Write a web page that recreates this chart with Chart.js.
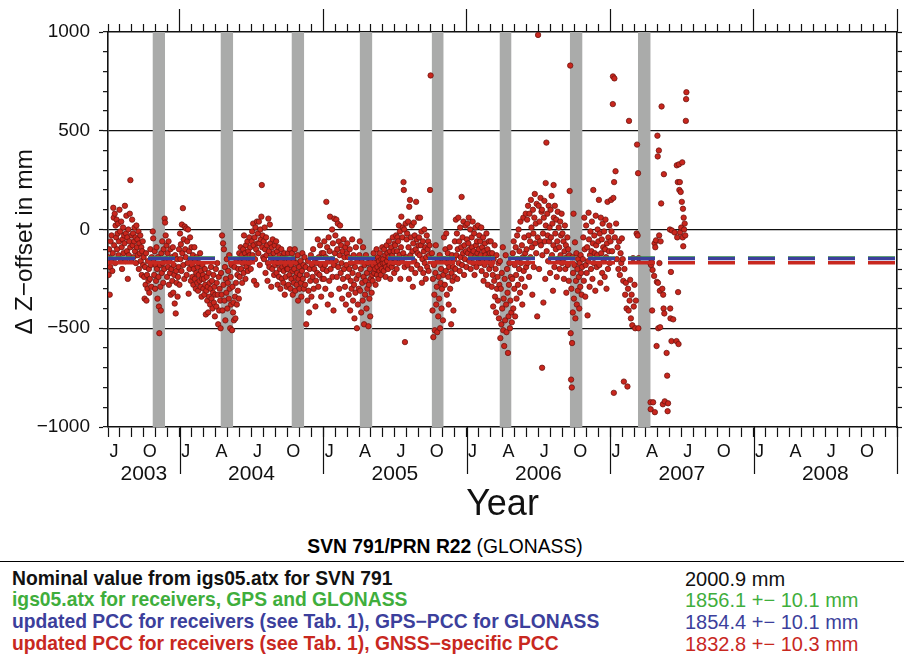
<!DOCTYPE html>
<html>
<head>
<meta charset="utf-8">
<script src="https://cdn.jsdelivr.net/npm/chart.js@4.4.1/dist/chart.umd.min.js"></script>
<style>
  body { margin: 0; background: #fff; width: 904px; height: 655px; overflow: hidden; position: relative;
         font-family: "Liberation Sans", Arial, Helvetica, sans-serif; }
  #marco { position: absolute; left: 0; top: 0; width: 904px; height: 529px; }
  #titulo { position: absolute; left: 0; width: 890px; top: 536px; text-align: center; font-size: 19.3px; line-height: 22px; }
  #titulo b { font-weight: bold; }
  #raya { position: absolute; left: 0; top: 561px; width: 904px; height: 0; border-top: 1.5px solid #000; }
  .fila { position: absolute; left: 12px; font-size: 19.3px; font-weight: bold; line-height: 22px; white-space: nowrap; }
  .valor { position: absolute; left: 685px; font-size: 20px; line-height: 22px; white-space: nowrap; }
</style>
</head>
<body>
<div id="marco"><canvas id="grafico-z"></canvas></div>
<div id="titulo"><b>SVN 791/PRN R22</b> (GLONASS)</div>
<div id="raya"></div>
<div id="leyenda"></div>
<script>
// Datos: fecha decimal, diferencia de offset Z en mm
const obs2003 = [
  [2003.502,-140],[2003.505,-230],[2003.508,-100],[2003.512,-330],[2003.515,-190],[2003.518,-60],[2003.522,-150],[2003.525,-30],[2003.530,-210],[2003.533,-120],[2003.537,110],[2003.540,60],[2003.543,-80],[2003.547,80],[2003.550,-170],[2003.553,20],[2003.557,-40],[2003.560,50],[2003.563,-100],[2003.567,-20],[2003.570,30],[2003.573,-130],[2003.577,-60],[2003.580,100],
  [2003.585,-10],[2003.588,-150],[2003.592,40],[2003.595,-90],[2003.598,-200],[2003.602,-50],[2003.605,10],[2003.608,-120],[2003.612,-30],[2003.615,-70],[2003.618,120],[2003.622,-160],[2003.625,-20],[2003.628,70],[2003.632,-110],[2003.635,-40],[2003.638,-250],[2003.642,0],[2003.645,-130],[2003.648,-60],[2003.652,80],[2003.655,-90],[2003.656,250],[2003.662,-150],[2003.665,-30],
  [2003.668,50],[2003.672,-80],[2003.675,-20],[2003.678,-140],[2003.682,-60],[2003.685,10],[2003.688,-110],[2003.692,-40],[2003.695,-170],[2003.698,20],[2003.702,-90],[2003.705,-50],[2003.708,-130],[2003.712,-10],[2003.715,-200],[2003.718,-70],[2003.722,-120],[2003.725,-30],[2003.728,-160],[2003.732,-90],[2003.735,-230],[2003.738,-110],[2003.742,-60],[2003.745,-180],[2003.748,-140],
  [2003.752,-240],[2003.755,-350],[2003.758,-190],[2003.762,-280],[2003.765,-120],[2003.768,-360],[2003.772,-230],[2003.775,-300],[2003.778,-160],[2003.782,-260],[2003.785,-200],[2003.788,-320],[2003.792,-250],[2003.795,-100],[2003.798,-180],[2003.802,-290],[2003.805,-140],
  [2003.812,-10],[2003.815,-45],[2003.818,-150],[2003.822,-230],[2003.825,-110],[2003.828,-300],[2003.832,-180],[2003.835,-260],[2003.838,-90],[2003.842,-200],[2003.845,-350],[2003.848,-140],[2003.852,-240],[2003.855,-390],[2003.858,-525],[2003.862,-180],[2003.865,-290],[2003.868,-410],[2003.872,-120],[2003.875,-220],[2003.878,-60],[2003.882,-170],[2003.885,-270],[2003.888,-100],[2003.892,-200],[2003.895,55],[2003.898,35],
  [2003.902,-30],[2003.905,-150],[2003.908,-80],[2003.912,-240],[2003.915,-120],[2003.918,-190],[2003.922,-60],[2003.925,-280],[2003.928,-160],[2003.932,-220],[2003.935,-100],[2003.938,-330],[2003.942,-200],[2003.945,-140],[2003.948,-260],[2003.952,-90],[2003.955,-320],[2003.958,-180],[2003.962,-230],[2003.965,-375],[2003.968,-130],[2003.972,-425],[2003.975,-210],[2003.978,-270],[2003.982,-150],[2003.985,-340],[2003.988,-240],[2003.992,-190],[2003.995,-100],[2003.998,-280]
];
const obs2004 = [
  [2004.002,-20],[2004.005,-150],[2004.008,-75],[2004.012,-210],[2004.015,25],[2004.018,-120],[2004.022,108],[2004.025,-180],[2004.028,-50],[2004.032,-250],[2004.035,15],[2004.038,-100],[2004.042,-140],[2004.045,5],[2004.048,-230],[2004.052,-60],[2004.055,-170],[2004.058,0],[2004.062,-325],[2004.065,-110],[2004.068,-200],[2004.072,-40],[2004.075,-150],[2004.078,-260],[2004.082,-90],
  [2004.085,-180],[2004.088,-240],[2004.092,-130],[2004.095,-280],[2004.098,-200],[2004.102,-90],[2004.105,-250],[2004.108,-160],[2004.112,-300],[2004.115,-220],[2004.118,-140],[2004.122,-270],[2004.125,-190],[2004.128,-310],[2004.132,-230],[2004.135,-170],[2004.138,-260],[2004.142,-120],[2004.145,-290],[2004.148,-210],[2004.152,-340],[2004.155,-250],[2004.158,-180],[2004.162,-230],[2004.165,-300],
  [2004.168,-250],[2004.172,-330],[2004.175,-200],[2004.178,-280],[2004.182,-430],[2004.185,-310],[2004.188,-240],[2004.192,-360],[2004.195,-290],[2004.198,-420],[2004.202,-220],[2004.205,-340],[2004.208,-270],[2004.212,-380],[2004.215,-300],[2004.218,-190],[2004.222,-350],[2004.225,-260],[2004.228,-400],[2004.232,-320],[2004.235,-230],[2004.238,-370],[2004.242,-290],[2004.245,-440],[2004.248,-330],
  [2004.252,-200],[2004.255,-390],[2004.258,-270],[2004.262,-170],[2004.265,-330],[2004.268,-480],[2004.272,-240],[2004.275,-410],[2004.278,-300],[2004.282,-360],
  [2004.285,-500],[2004.288,-220],[2004.292,-330],[2004.295,-30],[2004.298,-410],[2004.302,-70],[2004.305,-280],[2004.308,-100],[2004.312,-360],[2004.315,-190],[2004.318,-460],[2004.322,-250],[2004.325,-320],[2004.328,-150],[2004.332,-400],[2004.335,-270],[2004.338,-210],[2004.342,-350],[2004.345,-130],[2004.348,-300],[2004.352,-500],[2004.355,-240],[2004.358,-380],[2004.362,-180],[2004.365,-510],[2004.368,-290],[2004.372,-420],
  [2004.375,-370],[2004.378,-460],[2004.382,-190],[2004.385,-340],[2004.388,-450],[2004.392,-270],[2004.395,-155],[2004.398,-380],[2004.402,-230],[2004.405,-310],[2004.408,-200],[2004.412,-350],[2004.415,-120],
  [2004.418,-240],[2004.422,-150],[2004.425,-90],[2004.428,-200],[2004.432,-130],[2004.435,-270],[2004.438,-170],[2004.442,-100],[2004.445,-220],[2004.448,-30],[2004.452,-160],[2004.455,-120],[2004.458,-250],[2004.462,-80],[2004.465,-190],[2004.468,-140],[2004.472,-60],[2004.475,-210],[2004.478,-110],[2004.482,-170],[2004.485,-40],[2004.488,-130],[2004.492,-90],[2004.495,-200],[2004.498,-150],
  [2004.502,-60],[2004.505,-10],[2004.508,-130],[2004.512,30],[2004.515,-80],[2004.518,-260],[2004.522,-40],[2004.525,-150],[2004.528,10],[2004.532,-100],[2004.535,-280],[2004.538,40],[2004.542,-70],[2004.545,-20],[2004.548,-120],[2004.552,40],[2004.555,-70],[2004.558,-180],[2004.562,0],[2004.565,-50],[2004.569,65],[2004.572,225],[2004.575,-90],[2004.578,-30],[2004.582,-140],
  [2004.585,-60],[2004.588,-150],[2004.592,10],[2004.595,-100],[2004.598,-220],[2004.602,-40],[2004.605,-130],[2004.608,-80],[2004.612,-260],[2004.615,-170],[2004.618,55],[2004.622,-110],[2004.625,-190],[2004.628,25],[2004.632,-70],[2004.635,-140],[2004.638,-290],[2004.642,-90],[2004.645,-200],[2004.648,-50],[2004.652,-160],[2004.655,-120],[2004.658,-230],[2004.662,-80],[2004.665,-180],
  [2004.668,-150],[2004.672,-60],[2004.675,-220],[2004.678,-110],[2004.682,-280],[2004.685,-170],[2004.688,-90],[2004.692,-240],[2004.695,-130],[2004.698,-200],[2004.702,-300],[2004.705,-160],[2004.708,-100],[2004.712,-250],[2004.715,-190],[2004.718,-140],[2004.722,-270],[2004.725,-210],[2004.728,-120],[2004.732,-330],[2004.735,-180],[2004.738,-240],[2004.742,-150],[2004.745,-290],[2004.748,-200],
  [2004.752,-200],[2004.755,-120],[2004.758,-280],[2004.762,-160],[2004.765,-230],[2004.768,-100],[2004.772,-300],[2004.775,-180],[2004.778,-250],[2004.782,-120],[2004.785,-210],[2004.788,-330],[2004.792,-150],[2004.795,-270],[2004.798,-200],[2004.802,-100],[2004.805,-310],[2004.808,-240],[2004.812,-170],[2004.815,-280],[2004.818,-220],[2004.822,-130],[2004.825,-360],[2004.828,-250],[2004.832,-190],[2004.835,-300],[2004.838,-230],[2004.842,-160],[2004.845,-270],[2004.848,-340],[2004.852,-210],[2004.855,-120],[2004.858,-250],[2004.862,-180],[2004.865,-300],
  [2004.870,-140],[2004.874,-280],[2004.878,-190],[2004.882,-480],[2004.886,-230],[2004.890,-360],[2004.894,-160],[2004.898,-310],[2004.902,-420],[2004.906,-200],[2004.910,-260],[2004.914,-130],[2004.918,-340],[2004.922,-180],[2004.926,-240],[2004.930,-100],[2004.934,-300],[2004.938,-200],[2004.942,-150],[2004.946,-390],[2004.950,-260],[2004.954,-170],[2004.958,-220],[2004.962,-50],[2004.966,-290],[2004.970,-140],[2004.974,-230],[2004.978,-80],[2004.982,-180],[2004.986,-340],[2004.990,-120],[2004.994,-250],[2004.998,-200]
];
const obs2005 = [
  [2005.002,-120],[2005.005,-250],[2005.008,-60],[2005.012,-180],[2005.015,-300],[2005.018,-140],[2005.022,140],[2005.025,-210],[2005.028,-90],[2005.032,-380],[2005.035,-160],[2005.038,-40],[2005.042,-260],[2005.045,-110],[2005.048,65],[2005.052,-200],[2005.055,-330],[2005.058,-150],[2005.062,0],[2005.065,-240],[2005.068,-70],[2005.072,-410],[2005.075,-180],[2005.078,55],[2005.082,-120],
  [2005.085,-30],[2005.088,-160],[2005.092,50],[2005.095,-240],[2005.098,-100],[2005.102,30],[2005.105,-190],[2005.108,-60],[2005.112,-300],[2005.115,-130],[2005.118,20],[2005.122,-220],[2005.125,-80],[2005.128,-170],[2005.132,-350],[2005.135,-110],[2005.138,-250],[2005.142,-50],[2005.145,-200],[2005.148,-140],[2005.152,-290],[2005.155,-90],[2005.158,-380],[2005.162,-180],[2005.165,-120],
  [2005.168,-70],[2005.172,-240],[2005.175,-140],[2005.178,-330],[2005.182,-200],[2005.185,-100],[2005.188,-410],[2005.192,-260],[2005.195,-170],[2005.198,-300],[2005.202,-50],[2005.205,-220],[2005.208,-360],[2005.212,-130],[2005.215,-280],[2005.218,-450],[2005.222,-190],[2005.225,-320],[2005.228,-90],[2005.232,-250],[2005.235,-500],[2005.238,-160],[2005.242,-380],[2005.245,-230],[2005.248,-300],[2005.252,-130],
  [2005.255,-60],[2005.258,-310],[2005.262,-200],[2005.265,-420],[2005.268,-150],[2005.272,-270],[2005.275,-360],[2005.278,-90],[2005.282,-240],[2005.285,-480],[2005.288,-180],[2005.292,-330],[2005.295,-260],[2005.298,-130],[2005.302,-400],[2005.305,-220],[2005.308,-300],[2005.312,-170],[2005.315,-490],[2005.318,-280],[2005.322,-350],[2005.325,-200],[2005.328,-440],[2005.332,-250],[2005.335,-160],[2005.338,-320],[2005.342,-230],
  [2005.345,-260],[2005.348,-180],[2005.352,-120],[2005.355,-220],[2005.358,-150],[2005.362,-200],[2005.365,-280],[2005.368,-170],[2005.372,-100],[2005.375,-230],[2005.378,-190],[2005.382,-140],[2005.385,-250],[2005.388,-160],[2005.392,-210],[2005.395,-120],[2005.398,-180],[2005.402,-230],[2005.405,-150],[2005.408,-200],[2005.412,-90],[2005.415,-170],
  [2005.418,-150],[2005.422,-210],[2005.425,-100],[2005.428,-170],[2005.432,-130],[2005.435,-240],[2005.438,-190],[2005.442,-80],[2005.445,-160],[2005.448,-120],[2005.452,-200],[2005.455,-140],[2005.458,-60],[2005.462,-180],[2005.465,-110],[2005.468,-250],[2005.472,-150],[2005.475,-90],[2005.478,-190],[2005.482,-130],[2005.485,-40],[2005.488,-170],[2005.492,-110],[2005.495,-220],[2005.498,-70],
  [2005.502,-80],[2005.505,-150],[2005.508,-30],[2005.512,-200],[2005.515,-110],[2005.518,-40],[2005.522,-60],[2005.525,-170],[2005.528,20],[2005.532,-130],[2005.535,-10],[2005.538,-250],[2005.542,-90],[2005.545,65],[2005.548,-160],[2005.552,-40],[2005.555,10],[2005.558,-120],[2005.560,240],[2005.562,200],[2005.565,0],[2005.568,-190],[2005.570,-570],[2005.575,30],[2005.578,-140],[2005.582,-50],
  [2005.585,-20],[2005.588,-180],[2005.592,40],[2005.595,-90],[2005.598,-250],[2005.600,115],[2005.605,150],[2005.608,-130],[2005.612,-40],[2005.615,-200],[2005.618,20],[2005.622,-110],[2005.625,-290],[2005.628,-70],[2005.632,35],[2005.635,-160],[2005.638,-30],[2005.642,-220],[2005.645,-100],[2005.648,140],[2005.652,-50],[2005.655,-180],[2005.658,-120],[2005.662,60],[2005.665,-80],
  [2005.668,-40],[2005.672,-130],[2005.675,60],[2005.678,-200],[2005.682,-80],[2005.685,-10],[2005.688,-270],[2005.692,-150],[2005.695,-60],[2005.698,-220],[2005.702,-110],[2005.705,0],[2005.708,-170],[2005.712,-90],[2005.715,-250],[2005.718,-140],[2005.722,-30],[2005.725,-190],[2005.728,-100],[2005.732,-60],[2005.735,-210],[2005.738,-130],[2005.742,-80],[2005.745,200],[2005.749,780],
  [2005.758,-120],[2005.762,-410],[2005.765,-250],[2005.768,-545],[2005.772,-180],[2005.775,-330],[2005.778,-510],[2005.782,-220],[2005.785,-80],[2005.788,-380],[2005.792,-290],[2005.795,-520],[2005.798,-160],[2005.802,-440],[2005.805,-240],[2005.808,-350],[2005.812,-130],[2005.815,-500],[2005.818,-270],[2005.822,-200],[2005.825,-400],[2005.828,-300],[2005.832,-150],[2005.835,-460],[2005.838,-230],
  [2005.842,-40],[2005.845,-150],[2005.848,-280],[2005.852,-100],[2005.855,-210],[2005.858,-20],[2005.862,-330],[2005.865,-170],[2005.868,-120],[2005.872,-240],[2005.875,-380],[2005.878,-190],[2005.882,-90],[2005.885,-300],[2005.888,-160],[2005.892,-480],[2005.895,-220],[2005.898,-130],[2005.902,-260],[2005.905,-190],[2005.908,-410],[2005.912,-150],[2005.915,-240],
  [2005.918,-60],[2005.922,-200],[2005.925,50],[2005.928,-130],[2005.932,-20],[2005.935,-250],[2005.938,-100],[2005.942,60],[2005.945,-170],[2005.948,-60],[2005.952,-210],[2005.955,10],[2005.958,-140],[2005.962,-90],[2005.965,165],[2005.968,-180],[2005.972,-40],[2005.975,-120],[2005.978,40],[2005.982,-230],[2005.985,-80],[2005.988,-150],[2005.992,20],[2005.995,-110],[2005.998,-190]
];
const obs2006 = [
  [2006.002,-50],[2006.005,30],[2006.008,-120],[2006.012,-70],[2006.015,60],[2006.018,-160],[2006.022,-100],[2006.025,0],[2006.028,-200],[2006.032,-130],[2006.035,-40],[2006.038,-90],[2006.042,40],[2006.045,-170],[2006.048,-110],[2006.052,-20],[2006.055,-230],[2006.058,-140],[2006.062,10],[2006.065,-80],[2006.068,-190],[2006.072,-60],[2006.075,-120],[2006.078,20],[2006.082,-150],
  [2006.085,-100],[2006.088,-30],[2006.092,-170],[2006.095,-60],[2006.098,-130],[2006.102,10],[2006.105,-210],[2006.108,-90],[2006.112,-150],[2006.115,-40],[2006.118,-260],[2006.122,-110],[2006.125,-180],[2006.128,-70],[2006.132,-130],[2006.135,-230],[2006.138,-20],[2006.142,-160],[2006.145,-100],[2006.148,-280],[2006.152,-140],[2006.155,-60],[2006.158,-200],[2006.162,-120],[2006.165,-170],
  [2006.168,-60],[2006.172,-180],[2006.175,-290],[2006.178,-120],[2006.182,-230],[2006.185,-390],[2006.188,-150],[2006.192,-260],[2006.195,-80],[2006.198,-340],[2006.202,-200],[2006.205,-420],[2006.208,-130],[2006.212,-300],[2006.215,-240],[2006.218,-360],[2006.222,-170],[2006.225,-450],[2006.228,-280],
  [2006.232,-160],[2006.235,-550],[2006.238,-300],[2006.242,-480],[2006.245,-220],[2006.248,-400],[2006.252,-90],[2006.255,-510],[2006.258,-350],[2006.262,-590],[2006.265,-250],[2006.268,-460],[2006.272,-130],[2006.275,-380],[2006.278,-520],[2006.282,-200],[2006.285,-320],[2006.288,-625],[2006.292,-440],[2006.295,-280],[2006.298,-170],[2006.302,-500],[2006.305,-360],[2006.308,-240],[2006.312,-420],
  [2006.315,-470],[2006.318,-250],[2006.322,-120],[2006.325,-400],[2006.328,-60],[2006.332,-300],[2006.335,-180],[2006.338,-440],[2006.342,-90],[2006.345,-230],[2006.348,-350],[2006.352,-30],[2006.355,-150],[2006.358,-280],[2006.362,0],[2006.365,-200],[2006.368,-110],[2006.372,-320],[2006.375,40],[2006.378,-170],[2006.382,-250],[2006.385,-80],[2006.388,-380],[2006.392,-140],[2006.395,60],[2006.398,-210],[2006.402,-40],[2006.405,-290],[2006.408,-120],[2006.412,80],[2006.415,-190],
  [2006.418,-100],[2006.422,50],[2006.425,-170],[2006.428,120],[2006.432,-30],[2006.435,-240],[2006.438,80],[2006.442,-60],[2006.445,-140],[2006.448,150],[2006.452,10],[2006.455,-90],[2006.458,-330],[2006.462,100],[2006.465,-20],[2006.468,-190],[2006.472,60],[2006.475,180],[2006.478,-70],[2006.482,30],[2006.485,-120],[2006.488,130],[2006.492,-440],[2006.495,-40],[2006.498,985],
  [2006.502,120],[2006.505,-200],[2006.508,40],[2006.512,-60],[2006.515,160],[2006.518,-80],[2006.522,90],[2006.525,100],[2006.526,-700],[2006.528,-130],[2006.532,-20],[2006.535,-370],[2006.538,60],[2006.542,145],[2006.545,-60],[2006.548,-250],[2006.551,235],[2006.552,20],[2006.556,440],[2006.558,-110],[2006.562,80],[2006.565,-30],[2006.568,-160],[2006.572,120],[2006.575,-60],[2006.578,10],[2006.582,-220],
  [2006.585,100],[2006.588,-40],[2006.592,170],[2006.595,-130],[2006.598,30],[2006.602,-310],[2006.605,-80],[2006.606,225],[2006.608,60],[2006.612,-190],[2006.615,120],[2006.618,-20],[2006.622,-100],[2006.625,50],[2006.628,-240],[2006.632,-60],[2006.635,90],[2006.638,-150],[2006.642,10],[2006.645,-90],[2006.648,-200],[2006.652,40],[2006.655,-130],[2006.658,-30],[2006.662,80],[2006.665,-170],
  [2006.668,-20],[2006.672,-150],[2006.675,-60],[2006.678,-250],[2006.682,-110],[2006.685,20],[2006.688,-200],[2006.692,-80],[2006.695,-320],[2006.698,-140],[2006.702,-40],[2006.705,-180],[2006.708,-100],[2006.712,-260],[2006.715,-130],[2006.718,195],
  [2006.722,830],[2006.725,-525],[2006.728,-760],[2006.730,-300],[2006.733,-800],[2006.735,-575],[2006.738,-140],[2006.740,-420],[2006.742,-220],[2006.745,80],[2006.748,-350],[2006.752,-180],[2006.755,-65],[2006.758,-450],[2006.762,-260],[2006.765,-120],[2006.768,-380],[2006.772,-200],[2006.775,-310],[2006.778,-150],[2006.782,-240],[2006.785,-400],[2006.788,-170],[2006.792,-290],[2006.795,-130],[2006.798,-220],[2006.802,-330],[2006.805,-190],
  [2006.810,-150],[2006.813,-40],[2006.817,-260],[2006.820,60],[2006.823,-100],[2006.827,-340],[2006.830,-180],[2006.833,20],[2006.837,-220],[2006.840,-90],[2006.843,-435],[2006.847,-160],[2006.850,85],[2006.853,-50],[2006.857,-290],[2006.860,-130],[2006.863,-10],[2006.867,-200],[2006.870,-110],[2006.873,40],[2006.877,-250],[2006.880,-70],[2006.883,200],[2006.887,-170],[2006.890,-30],[2006.893,-120],[2006.897,-310],[2006.900,70],[2006.903,-80],[2006.907,-190],[2006.910,-130],[2006.913,0],
  [2006.918,-60],[2006.922,150],[2006.925,-180],[2006.928,-20],[2006.932,-270],[2006.935,60],[2006.938,-120],[2006.942,-50],[2006.945,-220],[2006.948,30],[2006.952,-90],[2006.955,-160],[2006.958,-10],[2006.962,-240],[2006.965,-100],[2006.968,50],[2006.972,-140],[2006.975,-300],[2006.978,-70],[2006.982,140],[2006.985,-200],[2006.988,-40],[2006.992,-110],[2006.995,20],[2006.998,-170]
];
const obs2007 = [
  [2007.003,-60],[2007.007,150],[2007.010,-10],[2007.014,-110],[2007.019,635],[2007.020,775],[2007.023,160],[2007.026,-827],[2007.028,240],[2007.030,765],[2007.033,-40],[2007.038,295],[2007.042,30],[2007.047,-150],[2007.052,-90],[2007.058,-200],[2007.063,-60],[2007.068,-230],[2007.073,-120],[2007.078,-170],[2007.082,-45],
  [2007.088,-150],[2007.092,-260],[2007.096,-770],[2007.100,-200],[2007.105,-330],[2007.110,-270],[2007.115,-400],[2007.121,-795],[2007.125,-300],[2007.129,-410],[2007.132,550],[2007.136,-360],[2007.140,-255],[2007.145,-450],[2007.150,-330],[2007.155,-485],[2007.160,-145],[2007.165,-390],
  [2007.170,-280],[2007.175,-500],[2007.180,-360],[2007.185,-20],[2007.188,430],[2007.192,-30],
  [2007.195,285],[2007.197,-500],[2007.199,-145],[2007.280,-170],[2007.282,-875],[2007.283,-910],
  [2007.286,-180],[2007.290,-165],[2007.293,-410],[2007.296,-205],[2007.300,-875],[2007.307,-235],[2007.310,-70],[2007.312,-925],[2007.315,-90],[2007.320,-55],[2007.324,-590],[2007.326,-265],[2007.330,475],[2007.332,370],[2007.334,-270],[2007.336,-500],[2007.340,400],[2007.342,-30],[2007.344,-170],[2007.347,-310],[2007.349,-495],[2007.352,-60],[2007.356,132],[2007.359,623],[2007.364,-300],[2007.368,-885],[2007.370,-330],[2007.373,-400],[2007.375,280],[2007.378,-425],[2007.381,-870],[2007.394,-625],[2007.398,-740],[2007.401,-920],[2007.404,-880],
  [2007.417,0],[2007.419,-400],[2007.421,-450],[2007.424,-215],[2007.428,-565],[2007.431,-5],[2007.440,-455],[2007.450,-15],[2007.463,-565],[2007.465,325],[2007.468,-40],[2007.472,240],[2007.474,-317],[2007.477,-580],[2007.480,330],[2007.483,200],[2007.486,240],[2007.488,-15],[2007.492,190],[2007.496,10],[2007.500,140],[2007.503,340],[2007.506,-40],[2007.508,105],[2007.510,-85],[2007.513,60],[2007.516,0],[2007.520,30],[2007.524,-30],[2007.528,550],[2007.530,660],[2007.532,695]
];

// Temporadas de eclipse (barras grises)
const eclipseInicio = [2003.810, 2004.284, 2004.779, 2005.254, 2005.756, 2006.229, 2006.719, 2007.194];
const eclipseFin    = [2003.898, 2004.373, 2004.868, 2005.343, 2005.840, 2006.313, 2006.808, 2007.283];

// Valores de la leyenda
const valorNominal = 2000.9;
const solucionNombres = ['igs05.atx for receivers, GPS and GLONASS',
  'updated PCC for receivers (see Tab. 1), GPS\u2212PCC for GLONASS',
  'updated PCC for receivers (see Tab. 1), GNSS\u2212specific PCC'];
const solucionValores = [1856.1, 1854.4, 1832.8];
const solucionErrores = [10.1, 10.1, 10.3];
const solucionColores = ['#3fae3c', '#3c3f9c', '#c8281f'];

// Ejes
const anios = [2003, 2004, 2005, 2006, 2007, 2008];
const letrasTrimestre = ['J', 'A', 'J', 'O'];
const xInicio = 2003.5;
const xFin = 2009.0;

const puntos = [...obs2003, ...obs2004, ...obs2005, ...obs2006, ...obs2007].map(p => ({x: p[0], y: p[1]}));

const limitesMes = [];
for (const a of anios) for (let m = 0; m < 12; m++) {
    const v = a + m / 12;
    if (v >= xInicio - 1e-9 && v <= xFin) limitesMes.push(v);
}
limitesMes.push(xFin);
const limitesAnio = anios.concat([2009]).filter(a => a > xInicio);
const centrosTrimestre = [];
for (const a of anios) for (let q = 0; q < 4; q++) {
    const v = a + (q * 3 + 0.5) / 12;
    if (v > xInicio && v < xFin) centrosTrimestre.push(v);
}
const centrosAnio = anios.map(a => (Math.max(a, xInicio) + Math.min(a + 1, xFin)) / 2);

const fijarTicks = (valores) => (scale) => { scale.ticks = valores.map(v => ({value: v})); };
const fijarAncho = (w) => (scale) => { scale.width = w; };
const fijarAlto = (h) => (scale) => { scale.height = h; };
const negro = '#111';
const fuente = 'Liberation Sans, Arial, Helvetica, sans-serif';

const datasets = [];
eclipseInicio.forEach((s, i) => {
    datasets.push({
        type: 'line',
        data: [{x: s, y: 1000}, {x: eclipseFin[i], y: 1000}],
        borderWidth: 0,
        borderColor: 'rgba(0,0,0,0)',
        backgroundColor: '#aaabaa',
        pointRadius: 0,
        fill: {value: -1000},
        order: 10
    });
});
datasets.push({
    type: 'scatter',
    label: 'Z-offset',
    data: puntos,
    pointRadius: 2.7,
    pointBorderWidth: 0.8,
    backgroundColor: '#c9261d',
    borderColor: '#6e1510',
    order: 5
});
// líneas discontinuas por encima de los puntos
solucionValores.forEach((v, i) => {
    const d = v - valorNominal;
    datasets.push({
        type: 'line',
        data: [{x: xInicio, y: d}, {x: xFin, y: d}],
        borderColor: solucionColores[i],
        borderWidth: 3.5,
        borderDash: [27, 13],
        pointRadius: 0,
        fill: false,
        order: 3 - i
    });
});

// Marcas largas de los años bajo el eje x
const marcasAnuales = {
    id: 'marcasAnuales',
    afterDraw(chart) {
        const {ctx, chartArea, scales} = chart;
        ctx.save();
        ctx.strokeStyle = negro;
        ctx.lineWidth = 1.2;
        limitesAnio.forEach(a => {
            const px = Math.round(scales.x.getPixelForValue(a)) + 0.5;
            ctx.beginPath();
            ctx.moveTo(px, chartArea.bottom);
            ctx.lineTo(px, chartArea.bottom + 47);
            ctx.stroke();
        });
        ctx.restore();
    }
};

new Chart(document.getElementById('grafico-z'), {
    type: 'scatter',
    data: {datasets},
    plugins: [marcasAnuales],
    options: {
        responsive: true,
        maintainAspectRatio: false,
        animation: false,
        events: [],
        layout: {padding: {left: 0, right: 0, top: 0, bottom: 0}},
        plugins: {legend: {display: false}, tooltip: {enabled: false}},
        scales: {
            x: {
                type: 'linear', position: 'bottom', weight: 0, min: xInicio, max: xFin,
                afterBuildTicks: fijarTicks(limitesMes), afterFit: fijarAlto(10),
                ticks: {display: false},
                grid: {drawOnChartArea: false, tickLength: 10, tickColor: negro, tickWidth: 1.2},
                border: {color: negro, width: 1.6}
            },
            xTrim: {
                type: 'linear', position: 'bottom', weight: 1, min: xInicio, max: xFin,
                afterBuildTicks: fijarTicks(centrosTrimestre), afterFit: fijarAlto(21),
                ticks: {
                    autoSkip: false, maxRotation: 0, padding: 4, color: negro,
                    font: {family: fuente, size: 18},
                    callback: (v) => letrasTrimestre[Math.floor(Math.round((v - Math.floor(v)) * 12 - 0.5) / 3)]
                },
                grid: {display: false, drawTicks: false},
                border: {display: false}
            },
            xAnio: {
                type: 'linear', position: 'bottom', weight: 2, min: xInicio, max: xFin,
                afterBuildTicks: fijarTicks(centrosAnio), afterFit: fijarAlto(71),
                ticks: {
                    autoSkip: false, maxRotation: 0, padding: 4, color: negro,
                    font: {family: fuente, size: 21},
                    callback: (v) => String(Math.floor(v))
                },
                grid: {display: false, drawTicks: false},
                border: {display: false},
                title: {display: true, text: 'Year', color: negro, font: {family: fuente, size: 36}, padding: {top: 0, bottom: 2}}
            },
            xSup: {
                type: 'linear', position: 'top', weight: 0, min: xInicio, max: xFin,
                afterBuildTicks: fijarTicks(limitesMes), afterFit: fijarAlto(8),
                ticks: {display: false},
                grid: {drawOnChartArea: false, tickLength: 8, tickColor: negro, tickWidth: 1.2},
                border: {color: negro, width: 1.6}
            },
            xSupAnio: {
                type: 'linear', position: 'top', weight: 1, min: xInicio, max: xFin,
                afterBuildTicks: fijarTicks(limitesAnio), afterFit: fijarAlto(24),
                ticks: {display: false},
                grid: {drawOnChartArea: false, tickLength: 15, tickColor: negro, tickWidth: 1.2},
                border: {display: false}
            },
            y: {
                type: 'linear', position: 'left', weight: 0, min: -1000, max: 1000,
                afterFit: fijarAncho(5),
                ticks: {display: false, stepSize: 100},
                grid: {
                    tickLength: 5, tickColor: negro, tickWidth: 1.2, lineWidth: 1.3,
                    color: (c) => (c.tick && c.tick.value % 500 === 0 && Math.abs(c.tick.value) < 1000) ? negro : 'rgba(0,0,0,0)'
                },
                border: {color: negro, width: 1.6}
            },
            yEtiq: {
                type: 'linear', position: 'left', weight: 1, min: -1000, max: 1000,
                afterFit: fijarAncho(103),
                ticks: {
                    stepSize: 500, padding: 9, color: negro,
                    font: {family: fuente, size: 19},
                    callback: (v) => v < 0 ? '\u2212' + Math.abs(v) : String(v)
                },
                grid: {drawOnChartArea: false, tickLength: 4, tickColor: negro, tickWidth: 1.2},
                border: {display: false},
                title: {display: true, text: '\u0394 Z\u2212offset in mm\u2003', color: negro, font: {family: fuente, size: 24.5}, padding: {top: 11, bottom: 0}}
            },
            yDer: {
                type: 'linear', position: 'right', weight: 0, min: -1000, max: 1000,
                afterFit: fijarAncho(7),
                ticks: {display: false, stepSize: 100},
                grid: {drawOnChartArea: false, tickLength: 5, tickColor: negro, tickWidth: 1.2},
                border: {color: negro, width: 1.6}
            }
        }
    }
});

// Leyenda en texto bajo el gráfico
const leyenda = document.getElementById('leyenda');
const filas = [{texto: 'Nominal value from igs05.atx for SVN 791', valor: valorNominal.toFixed(1) + ' mm', color: '#111'}];
solucionNombres.forEach((n, i) => filas.push({
    texto: n,
    valor: solucionValores[i].toFixed(1) + ' +\u2212 ' + solucionErrores[i].toFixed(1) + ' mm',
    color: solucionColores[i]
}));
filas.forEach((f, i) => {
    const top = 567.5 + i * 21.7;
    const t = document.createElement('div');
    t.className = 'fila'; t.style.top = top + 'px'; t.style.color = f.color; t.textContent = f.texto;
    const v = document.createElement('div');
    v.className = 'valor'; v.style.top = top + 'px'; v.style.color = f.color; v.textContent = f.valor;
    leyenda.appendChild(t); leyenda.appendChild(v);
});
</script>
</body>
</html>
